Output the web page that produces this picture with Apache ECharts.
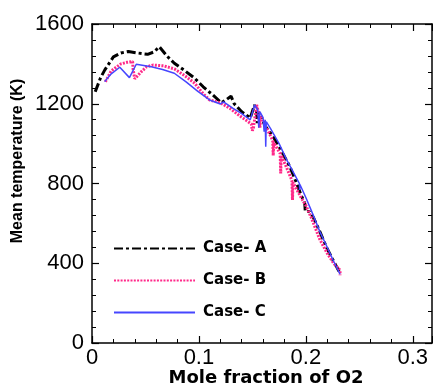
<!DOCTYPE html>
<html>
<head>
<meta charset="utf-8">
<script src="https://cdn.jsdelivr.net/npm/echarts@6/dist/echarts.min.js"></script>
<style>
  html, body { margin: 0; padding: 0; background: #fff; }
  #chart { width: 433px; height: 389px; }
</style>
</head>
<body>
<div id="chart"></div>
<script>
// mole fraction of O2 vs mean temperature
const caseA = [
  [0.003,1260],[0.008,1330],[0.012,1370],[0.020,1435],[0.027,1455],[0.034,1462],
  [0.042,1455],[0.052,1448],[0.058,1460],[0.063,1486],[0.070,1440],[0.077,1403],
  [0.087,1365],[0.096,1328],[0.104,1285],[0.113,1244],[0.121,1205],[0.126,1222],
  [0.130,1238],[0.133,1200],[0.140,1160],[0.148,1128],[0.152,1194],[0.154,1160],
  [0.1545,1103],[0.155,1160],[0.157,1150],[0.160,1110],[0.163,1080],[0.166,1060],
  [0.170,1030],[0.175,985],[0.180,935],[0.185,885],[0.190,820],[0.195,750],
  [0.199,700],[0.1995,660],[0.203,660],[0.207,630],[0.213,560],[0.219,483],
  [0.225,420],[0.232,350]
]
const caseB = [
  [0.0125,1310],[0.018,1365],[0.027,1400],[0.033,1408],[0.038,1412],[0.0385,1370],
  [0.040,1325],[0.046,1360],[0.051,1385],[0.057,1394],[0.067,1390],[0.077,1375],
  [0.087,1340],[0.096,1303],[0.104,1250],[0.110,1219],[0.120,1205],[0.129,1177],
  [0.138,1140],[0.146,1110],[0.149,1098],[0.150,1065],[0.151,1080],[0.154,1194],
  [0.156,1150],[0.157,1080],[0.158,1140],[0.162,1090],[0.166,1050],[0.169,1015],
  [0.1695,940],[0.170,1005],[0.176,950],[0.1765,850],[0.177,940],[0.182,880],
  [0.187,815],[0.1875,717],[0.188,805],[0.195,735],[0.200,690],[0.205,630],
  [0.213,520],[0.220,450],[0.226,400],[0.232,365],[0.232,340]
]
const caseC = [
  [0.0118,1311],[0.018,1350],[0.026,1383],[0.035,1331],[0.0414,1398],[0.0554,1386],
  [0.066,1372],[0.077,1353],[0.088,1310],[0.099,1262],[0.110,1219],[0.120,1199],
  [0.123,1210],[0.132,1177],[0.140,1150],[0.148,1119],[0.152,1194],[0.155,1170],
  [0.156,1080],[0.157,1160],[0.160,1130],[0.161,1060],[0.162,1120],[0.1625,985],
  [0.163,1110],[0.167,1075],[0.175,1000],[0.182,920],[0.190,840],[0.194,800],
  [0.1942,767],[0.1945,795],[0.200,730],[0.207,640],[0.213,560],[0.220,480],
  [0.226,410],[0.232,345]
]
const seriesNames = ['Case- A', 'Case- B', 'Case- C']
const xTitle = 'Mole fraction of O2'
const yTitle = 'Mean temperature (K)'

const font = 'Liberation Sans, Arial, sans-serif'
const wideBold = 'DejaVu Sans, sans-serif'

const chart = echarts.init(document.getElementById('chart'))

// common look for the boxed frame axes
const frameAxis = (extra) => Object.assign({
  axisLine: { show: true, onZero: false, lineStyle: { color: '#000', width: 1.5 } },
  axisTick: { show: true, inside: true, length: 7, lineStyle: { color: '#000', width: 1.2 } },
  minorTick: { show: true, splitNumber: 5, length: 4, lineStyle: { color: '#000', width: 1 } },
  splitLine: { show: false },
  minorSplitLine: { show: false }
}, extra)

chart.setOption({
  animation: false,
  backgroundColor: '#fff',
  grid: { left: 92, top: 24, right: 1, bottom: 46 },
  legend: {
    orient: 'vertical',
    left: 108,
    top: 236,
    itemWidth: 81,
    itemHeight: 16,
    itemGap: 17,
    data: seriesNames,
    itemStyle: { opacity: 0 },
    textStyle: { color: '#000', fontSize: 15, fontWeight: 'bold', fontFamily: wideBold, padding: [0, 0, 0, 3] }
  },
  graphic: [
    {
      type: 'text', x: 266, y: 378,
      style: {
        text: xTitle, fill: '#000', fontSize: 18, fontWeight: 'bold', fontFamily: wideBold,
        align: 'center', verticalAlign: 'middle'
      }
    },
    {
      type: 'text', x: 18, y: 161, rotation: Math.PI / 2,
      style: {
        text: yTitle, fill: '#000', fontSize: 16, fontWeight: 'bold', fontFamily: font,
        align: 'center', verticalAlign: 'middle'
      }
    }
  ],
  xAxis: [
    frameAxis({
      type: 'value', position: 'bottom', min: 0, max: 0.318, interval: 0.1,
      axisLabel: {
        color: '#000', fontSize: 22, fontFamily: font, margin: 4,
        formatter: v => v === 0 ? '0' : v.toFixed(1)
      }
    }),
    frameAxis({
      type: 'value', position: 'top', min: 0, max: 0.318, interval: 0.1,
      axisLabel: { show: false }
    })
  ],
  yAxis: [
    frameAxis({
      type: 'value', position: 'left', min: 0, max: 1600, interval: 400,
      axisLabel: { color: '#000', fontSize: 22, fontFamily: font, margin: 8, formatter: v => String(v) }
    }),
    frameAxis({
      type: 'value', position: 'right', min: 0, max: 1600, interval: 400,
      axisLabel: { show: false }
    })
  ],
  series: [
    {
      name: seriesNames[0], type: 'line', data: caseA, showSymbol: false, symbol: 'none',
      lineStyle: { color: '#000', width: 3, type: [9, 3, 3, 3] }, itemStyle: { color: '#000' }
    },
    {
      name: seriesNames[1], type: 'line', data: caseB, showSymbol: false, symbol: 'none',
      lineStyle: { color: '#ff2a8a', width: 3, type: [2, 1.3] }, itemStyle: { color: '#ff2a8a' }
    },
    {
      name: seriesNames[2], type: 'line', data: caseC, showSymbol: false, symbol: 'none',
      lineStyle: { color: '#4646ff', width: 1.5 }, itemStyle: { color: '#4646ff' }
    }
  ]
})
</script>
</body>
</html>
